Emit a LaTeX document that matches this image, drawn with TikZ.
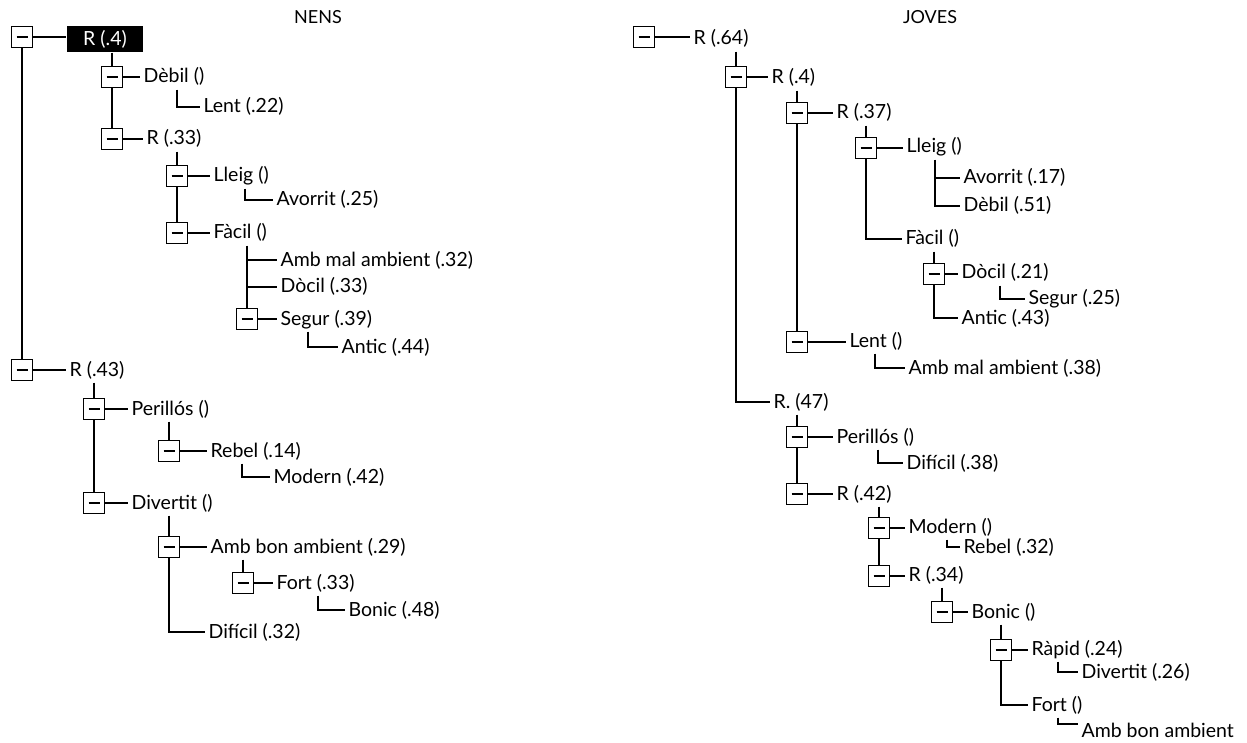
\documentclass[tikz,border=0pt]{standalone}
\usepackage{fontspec}
\setmainfont{Lato}
\begin{document}
\begin{tikzpicture}[x=1pt,y=-1pt,
  ln/.style={line width=1.2pt},
  bx/.style={draw, line width=1.1pt, minimum size=21pt, inner sep=0pt,
    path picture={\draw[line width=1.4pt] ([xshift=-5.5pt]path picture bounding box.center) -- ([xshift=5.5pt]path picture bounding box.center);}},
  lbl/.style={anchor=west, inner xsep=3pt, inner ysep=2pt, text height=16pt, text depth=4pt, font=\fontsize{19.5}{22}\selectfont},
  blk/.style={fill=black, text=white, minimum width=76pt, minimum height=26pt, inner sep=0pt, font=\fontsize{19.5}{22}\selectfont},
  ttl/.style={inner sep=0pt, font=\fontsize{18}{20}\selectfont}]
\useasboundingbox (0,0) rectangle (1247,743);
\fill[white] (0,0) rectangle (1247,743);
\begin{scope}[every path/.style={ln}]
% titles
\node[ttl] (tNens) at (318,17) {NENS};
\node[ttl] (tJoves) at (930,17) {JOVES};
% ---------- left tree ----------
\node[bx] (bA0) at (22,37) {};
\node[blk] (tR4) at (105,39) {R (.4)};
\draw (bA0.east) -- (bA0.east -| tR4.west);
\node[bx] (bDebil) at (112,77) {};
\draw (tR4.south -| bDebil.north) -- (bDebil.north);
\node[lbl] (tDebil) at (140,77) {Dèbil ()};
\draw (bDebil.east) -- (bDebil.east -| tDebil.west);
\node[lbl] (tLent) at (200,107) {Lent (.22)};
\draw ([xshift=37pt]tDebil.south west) |- (tLent.west);
\node[bx] (bR33) at (112,139) {};
\draw (bDebil.south) -- (bR33.north);
\node[lbl] (tR33) at (143,139) {R (.33)};
\draw (bR33.east) -- (bR33.east -| tR33.west);
\node[bx] (bLleig) at (177,176) {};
\draw (tR33.south -| bLleig.north) -- (bLleig.north);
\node[lbl] (tLleig) at (210,176) {Lleig ()};
\draw (bLleig.east) -- (bLleig.east -| tLleig.west);
\node[lbl] (tAvorrit) at (273,200) {Avorrit (.25)};
\draw ([xshift=35pt]tLleig.south west) |- (tAvorrit.west);
\node[bx] (bFacil) at (177,233) {};
\draw (bLleig.south) -- (bFacil.north);
\node[lbl] (tFacil) at (210,233) {Fàcil ()};
\draw (bFacil.east) -- (bFacil.east -| tFacil.west);
\node[bx] (bSegur) at (247,319) {};
\draw (tFacil.south -| bSegur.north) -- (bSegur.north);
\node[lbl] (tAmbMal) at (277,260) {Amb mal ambient (.32)};
\node[lbl] (tDocil) at (277,287) {Dòcil (.33)};
\draw (tAmbMal.west -| bSegur.north) -- (tAmbMal.west);
\draw (tDocil.west -| bSegur.north) -- (tDocil.west);
\node[lbl] (tSegur) at (277,319) {Segur (.39)};
\draw (bSegur.east) -- (bSegur.east -| tSegur.west);
\node[lbl] (tAntic) at (338,347) {Antic (.44)};
\draw ([xshift=31pt]tSegur.south west) |- (tAntic.west);
\node[bx] (bR43) at (22,370) {};
\draw (bA0.south) -- (bR43.north);
\node[lbl] (tR43) at (66,370) {R (.43)};
\draw (bR43.east) -- (bR43.east -| tR43.west);
\node[bx] (bPer) at (94,409) {};
\draw (tR43.south -| bPer.north) -- (bPer.north);
\node[lbl] (tPer) at (128,409) {Perillós ()};
\draw (bPer.east) -- (bPer.east -| tPer.west);
\node[bx] (bRebel) at (169,451) {};
\draw (tPer.south -| bRebel.north) -- (bRebel.north);
\node[lbl] (tRebel) at (207,451) {Rebel (.14)};
\draw (bRebel.east) -- (bRebel.east -| tRebel.west);
\node[lbl] (tModernL) at (270,477) {Modern (.42)};
\draw ([xshift=35pt]tRebel.south west) |- (tModernL.west);
\node[bx] (bDiv) at (94,503) {};
\draw (bPer.south) -- (bDiv.north);
\node[lbl] (tDiv) at (128,503) {Divertit ()};
\draw (bDiv.east) -- (bDiv.east -| tDiv.west);
\node[bx] (bAmbBon) at (169,547) {};
\draw (tDiv.south -| bAmbBon.north) -- (bAmbBon.north);
\node[lbl] (tAmbBon) at (207,547) {Amb bon ambient (.29)};
\draw (bAmbBon.east) -- (bAmbBon.east -| tAmbBon.west);
\node[bx] (bFort) at (243,583) {};
\draw (tAmbBon.south -| bFort.north) -- (bFort.north);
\node[lbl] (tFort) at (273,583) {Fort (.33)};
\draw (bFort.east) -- (bFort.east -| tFort.west);
\node[lbl] (tBonic) at (345,610) {Bonic (.48)};
\draw ([xshift=45pt]tFort.south west) |- (tBonic.west);
\node[lbl] (tDificil) at (205,632) {Difícil (.32)};
\draw (bAmbBon.south) |- (tDificil.west);
% ---------- right tree ----------
\node[bx] (bB0) at (644,37) {};
\node[lbl] (tR64) at (690,39) {R (.64)};
\draw (bB0.east) -- (bB0.east -| tR64.west);
\node[bx] (bB1) at (736,77) {};
\draw (tR64.south -| bB1.north) -- (bB1.north);
\node[lbl] (tR4b) at (768,78) {R (.4)};
\draw (bB1.east) -- (bB1.east -| tR4b.west);
\node[bx] (bB2) at (797,113) {};
\draw (tR4b.south -| bB2.north) -- (bB2.north);
\node[lbl] (tR37) at (833,113) {R (.37)};
\draw (bB2.east) -- (bB2.east -| tR37.west);
\node[bx] (bB3) at (866,148) {};
\draw (tR37.south -| bB3.north) -- (bB3.north);
\node[lbl] (tLleigR) at (903,147) {Lleig ()};
\draw (bB3.east) -- (bB3.east -| tLleigR.west);
\coordinate (cLl) at ([xshift=32pt]tLleigR.south west);
\node[lbl] (tAvorritR) at (960,178) {Avorrit (.17)};
\node[lbl] (tDebilR) at (960,206) {Dèbil (.51)};
\draw (cLl) |- (tDebilR.west);
\draw (tAvorritR.west -| cLl) -- (tAvorritR.west);
\node[lbl] (tFacilR) at (902,239) {Fàcil ()};
\draw (bB3.south) |- (tFacilR.west);
\node[bx] (bDocil) at (934,274) {};
\draw (tFacilR.south -| bDocil.north) -- (bDocil.north);
\node[lbl] (tDocilR) at (958,273) {Dòcil (.21)};
\draw (bDocil.east) -- (bDocil.east -| tDocilR.west);
\node[lbl] (tSegurR) at (1025,299) {Segur (.25)};
\draw ([xshift=42pt]tDocilR.south west) |- (tSegurR.west);
\node[lbl] (tAnticR) at (958,318) {Antic (.43)};
\draw (bDocil.south) |- (tAnticR.west);
\node[bx] (bLent) at (797,342) {};
\draw (bB2.south) -- (bLent.north);
\node[lbl] (tLentR) at (846,341) {Lent ()};
\draw (bLent.east) -- (bLent.east -| tLentR.west);
\node[lbl] (tAmbMalR) at (905,368) {Amb mal ambient (.38)};
\draw ([xshift=29pt]tLentR.south west) |- (tAmbMalR.west);
\node[lbl] (tR47) at (770,402) {R. (47)};
\draw (bB1.south) |- (tR47.west);
\node[bx] (bPerR) at (797,437) {};
\draw (tR47.south -| bPerR.north) -- (bPerR.north);
\node[lbl] (tPerR) at (833,437) {Perillós ()};
\draw (bPerR.east) -- (bPerR.east -| tPerR.west);
\node[lbl] (tDificilR) at (903,463) {Difícil (.38)};
\draw ([xshift=45pt]tPerR.south west) |- (tDificilR.west);
\node[bx] (bR42) at (797,494) {};
\draw (bPerR.south) -- (bR42.north);
\node[lbl] (tR42) at (833,494) {R (.42)};
\draw (bR42.east) -- (bR42.east -| tR42.west);
\node[bx] (bModern) at (879,528) {};
\draw (tR42.south -| bModern.north) -- (bModern.north);
\node[lbl] (tModernR) at (905,527) {Modern ()};
\draw (bModern.east) -- (bModern.east -| tModernR.west);
\node[lbl] (tRebelR) at (960,547) {Rebel (.32)};
\draw ([xshift=42pt]tModernR.south west) |- (tRebelR.west);
\node[bx] (bR34) at (879,576) {};
\draw (bModern.south) -- (bR34.north);
\node[lbl] (tR34) at (905,575) {R (.34)};
\draw (bR34.east) -- (bR34.east -| tR34.west);
\node[bx] (bBonic) at (942,612) {};
\draw (tR34.south -| bBonic.north) -- (bBonic.north);
\node[lbl] (tBonicR) at (968,612) {Bonic ()};
\draw (bBonic.east) -- (bBonic.east -| tBonicR.west);
\node[bx] (bRapid) at (1001,650) {};
\draw (tBonicR.south -| bRapid.north) -- (bRapid.north);
\node[lbl] (tRapid) at (1028,649) {Ràpid (.24)};
\draw (bRapid.east) -- (bRapid.east -| tRapid.west);
\node[lbl] (tDivertitR) at (1078,672) {Divertit (.26)};
\draw ([xshift=30pt]tRapid.south west) |- (tDivertitR.west);
\node[lbl] (tFortR) at (1028,705) {Fort ()};
\draw (bRapid.south) |- (tFortR.west);
\node[lbl] (tAmbBonR) at (1078,731) {Amb bon ambient};
\draw ([xshift=30pt]tFortR.south west) |- ([yshift=7pt]tAmbBonR.west);
\end{scope}
\end{tikzpicture}
\end{document}
